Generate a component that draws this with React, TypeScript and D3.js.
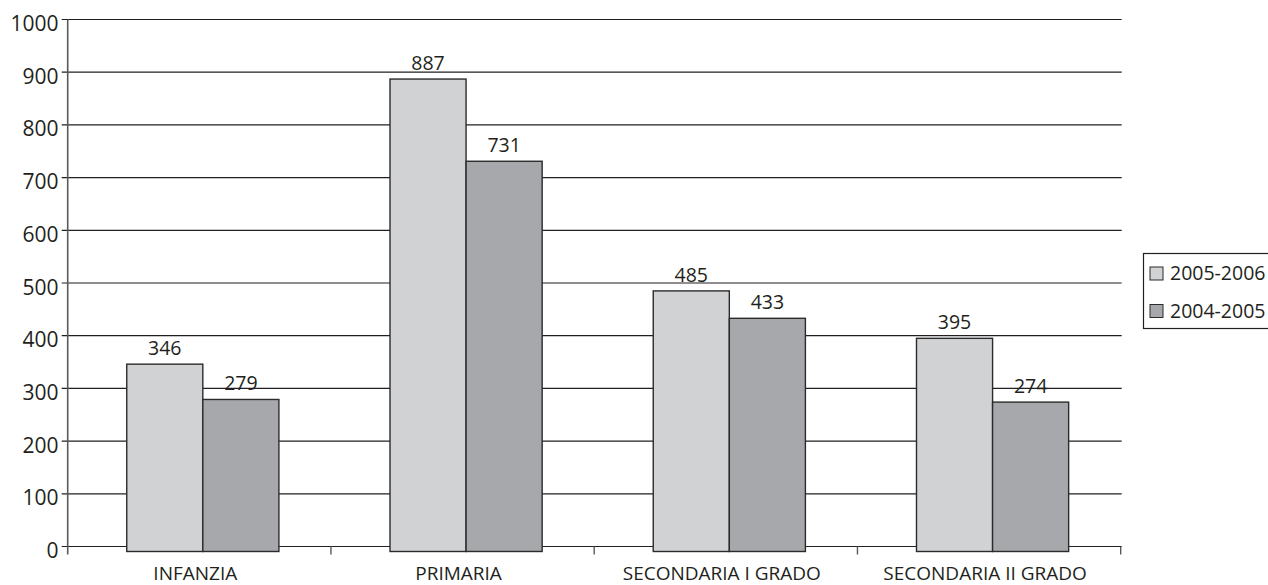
import React from "react";
import * as d3 from "d3";

const categories = ["INFANZIA", "PRIMARIA", "SECONDARIA I GRADO", "SECONDARIA II GRADO"];
const seriesNames = ["2005-2006", "2004-2005"];
const values2005_2006 = [346, 887, 485, 395];
const values2004_2005 = [279, 731, 433, 274];
const yTicks = [0, 100, 200, 300, 400, 500, 600, 700, 800, 900, 1000];

const seriesValues = [values2005_2006, values2004_2005];
const seriesColors = ["#d1d2d4", "#a7a8ab"];

const W = 1268;
const H = 585;
const FONT = "'Open Sans', 'Noto Sans', sans-serif";
const INK = "#231f20";

export default function App() {
  const left = 67.7;
  const right = 1120.7;
  const y = d3.scaleLinear().domain([0, 1000]).range([546.5, 19.5]);
  const x = d3.scaleBand<string>().domain(categories).range([left, right]).padding(0);
  const barW = x.bandwidth() * 0.289;
  const inner = d3
    .scaleBand<string>()
    .domain(seriesNames)
    .range([-barW, barW])
    .padding(0);
  const shift = 3.5;
  const baseY = y(0) + 5;

  return (
    <svg
      width={W}
      height={H}
      style={{ position: "absolute", left: 0, top: 0, display: "block", background: "#fff" }}
      fontFamily={FONT}
    >
      {/* gridlines with left tick stubs */}
      {yTicks.map((t) => (
        <g key={t}>
          <line x1={left - 6} x2={right + 1} y1={y(t)} y2={y(t)} stroke={INK} strokeWidth={1.2} />
          <text x={58.5} y={y(t) + 11.5} textAnchor="end" fontSize={21} fill={INK}>
            {t}
          </text>
        </g>
      ))}

      {/* vertical axis */}
      <line x1={left} x2={left} y1={y(1000)} y2={y(0) + 8} stroke="#58595b" strokeWidth={1.6} />

      {/* category ticks */}
      {categories.map((c) => (
        <line
          key={c}
          x1={(x(c) as number) + x.bandwidth()}
          x2={(x(c) as number) + x.bandwidth()}
          y1={y(0)}
          y2={y(0) + 8}
          stroke="#58595b"
          strokeWidth={1.4}
        />
      ))}

      {/* bars */}
      {categories.map((c, i) => {
        const cx = (x(c) as number) + x.bandwidth() / 2 + shift;
        return (
          <g key={c}>
            {seriesNames.map((s, j) => {
              const v = seriesValues[j][i];
              const bx = cx + (inner(s) as number);
              return (
                <g key={s}>
                  <rect
                    x={bx}
                    y={y(v)}
                    width={inner.bandwidth()}
                    height={baseY - y(v)}
                    fill={seriesColors[j]}
                    stroke="#2b2b2b"
                    strokeWidth={1.4}
                  />
                  <text
                    x={bx + inner.bandwidth() / 2}
                    y={y(v) - 9}
                    textAnchor="middle"
                    fontSize={19.5}
                    fill={INK}
                  >
                    {v}
                  </text>
                </g>
              );
            })}
          </g>
        );
      })}

      {/* category labels */}
      {categories.map((c) => (
        <text
          key={c}
          x={(x(c) as number) + x.bandwidth() / 2 - 4}
          y={579.5}
          textAnchor="middle"
          fontSize={19}
          fill={INK}
        >
          {c}
        </text>
      ))}

      {/* legend */}
      <g>
        <rect x={1143.5} y={253.5} width={140} height={75} fill="#fff" stroke={INK} strokeWidth={1.2} />
        {seriesNames.map((s, j) => (
          <g key={s} transform={`translate(0, ${j * 37.5})`}>
            <rect x={1150} y={267} width={13} height={13} fill={seriesColors[j]} stroke="#2b2b2b" strokeWidth={1} />
            <text x={1170} y={280} fontSize={19.5} fill={INK}>
              {s}
            </text>
          </g>
        ))}
      </g>
    </svg>
  );
}
